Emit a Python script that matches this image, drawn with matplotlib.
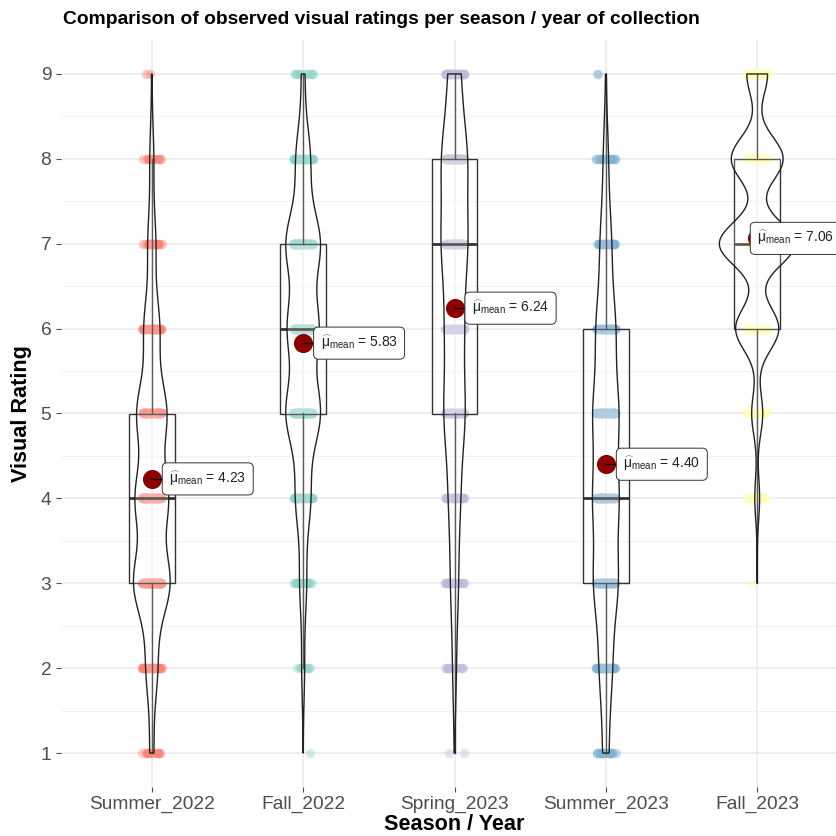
import numpy as np
import matplotlib.pyplot as plt
from matplotlib.patches import Polygon, Rectangle

plt.rcParams['font.family'] = ['Liberation Sans', 'DejaVu Sans']
plt.rcParams['mathtext.fontset'] = 'custom'
plt.rcParams['mathtext.rm'] = 'Liberation Sans'
plt.rcParams['mathtext.it'] = 'Liberation Sans:italic'

# groups and colours (RColorBrewer Set3, in alphabetical factor order)
groups = ["Summer_2022", "Fall_2022", "Spring_2023", "Summer_2023", "Fall_2023"]
colors = ["#FB8072", "#8DD3C7", "#BEBADA", "#80B1D3", "#FFFFB3"]

ratings = [1, 2, 3, 4, 5, 6, 7, 8, 9]
counts_summer_2022 = [14, 40, 128, 115, 105, 55, 28, 14, 2]
counts_fall_2022 = [1, 10, 24, 52, 120, 108, 120, 50, 12]
counts_spring_2023 = [2, 14, 30, 44, 82, 70, 100, 100, 48]
counts_summer_2023 = [24, 50, 96, 100, 100, 76, 44, 20, 2]
counts_fall_2023 = [0, 0, 1, 23, 53, 208, 365, 250, 100]

all_counts = [counts_summer_2022, counts_fall_2022, counts_spring_2023,
              counts_summer_2023, counts_fall_2023]


def bw_nrd0(x):
    hi = np.std(x, ddof=1)
    q1, q3 = np.percentile(x, [25, 75])
    lo = min(hi, (q3 - q1) / 1.34)
    return 0.9 * lo * len(x) ** (-0.2)


def kde(x, grid):
    bw = bw_nrd0(x)
    z = (grid[:, None] - x[None, :]) / bw
    return np.exp(-0.5 * z * z).sum(axis=1) / (len(x) * bw * np.sqrt(2 * np.pi))


data = [np.repeat(ratings, c).astype(float) for c in all_counts]

fig = plt.figure(figsize=(8.36, 8.36), dpi=100)
ax = fig.add_axes([61 / 836, 49 / 836, 787 / 836, 747 / 836])

rng = np.random.default_rng(7)

# violin densities first, so they can be scaled by area like ggplot
dens = []
for x in data:
    grid = np.linspace(x.min(), x.max(), 512)
    dens.append((grid, kde(x, grid)))
dmax = max(d.max() for _, d in dens)

for i, x in enumerate(data):
    pos = i + 1
    # jittered points
    jit = rng.uniform(-0.065, 0.065, len(x))
    ax.scatter(pos + jit, x, s=46, color=colors[i], alpha=0.4, linewidths=0, zorder=2)

    # boxplot
    q1, med, q3 = np.percentile(x, [25, 50, 75])
    iqr = q3 - q1
    lo = x[x >= q1 - 1.5 * iqr].min()
    hi = x[x <= q3 + 1.5 * iqr].max()
    ax.add_patch(Rectangle((pos - 0.15, q1), 0.3, q3 - q1, facecolor=(1, 1, 1, 0.2),
                           edgecolor='#333333', lw=1.0, zorder=3))
    ax.plot([pos - 0.15, pos + 0.15], [med, med], color='#333333', lw=2, zorder=3,
            solid_capstyle='butt')
    ax.plot([pos, pos], [q3, hi], color='#333333', lw=1.0, zorder=3)
    ax.plot([pos, pos], [lo, q1], color='#333333', lw=1.0, zorder=3)

    # violin
    grid, d = dens[i]
    half = 0.25 * d / dmax
    vx = np.concatenate([pos - half, (pos + half)[::-1]])
    vy = np.concatenate([grid, grid[::-1]])
    ax.add_patch(Polygon(np.column_stack([vx, vy]), closed=True, facecolor=(1, 1, 1, 0.2),
                         edgecolor='#222222', lw=1.0, zorder=4))

    # mean and its label
    m = x.mean()
    ax.scatter([pos], [m], s=190, color='#8B0000', zorder=5, linewidths=0)
    left = min(pos + 0.075, 5.6 - 0.64)
    ax.plot([pos, left], [m, m], color='black', lw=0.9, zorder=5)
    ax.text(left + 0.04, m, r'$\widehat{\mathrm{\mu}}_{\mathrm{mean}}$' + f' = {m:.2f}',
            ha='left', va='center', fontsize=10, color='#222222', zorder=6,
            bbox=dict(boxstyle='round,pad=0.5,rounding_size=0.35', fc='white',
                      ec='#333333', lw=0.7))

ax.set_xlim(0.4, 5.6)
ax.set_ylim(0.6, 9.4)
ax.set_xticks(range(1, 6))
ax.set_xticklabels(groups)
ax.set_yticks(ratings)
ax.set_yticks(np.arange(1.5, 9, 1), minor=True)
ax.tick_params(axis='both', which='major', labelsize=13.8, labelcolor='#4D4D4D',
               color='#4D4D4D', length=3.5, width=0.8)
ax.tick_params(axis='x', which='major', pad=2.5)
ax.tick_params(axis='y', which='minor', length=0)
ax.grid(True, which='major', color='#EBEBEB', lw=1.2, zorder=0)
ax.grid(True, which='minor', axis='y', color='#F2F2F2', lw=0.8, zorder=0)
ax.set_axisbelow(True)
for s in ax.spines.values():
    s.set_visible(False)

ax.set_xlabel('Season / Year', fontsize=15.6, fontweight='bold', labelpad=1)
ax.set_ylabel('Visual Rating', fontsize=15.6, fontweight='bold', labelpad=6)
fig.text(63 / 836, 1 - 20 / 836, 'Comparison of observed visual ratings per season / year of collection',
         fontsize=13.9, fontweight='bold', ha='left', va='center')

fig.savefig('out.png', dpi=100)
